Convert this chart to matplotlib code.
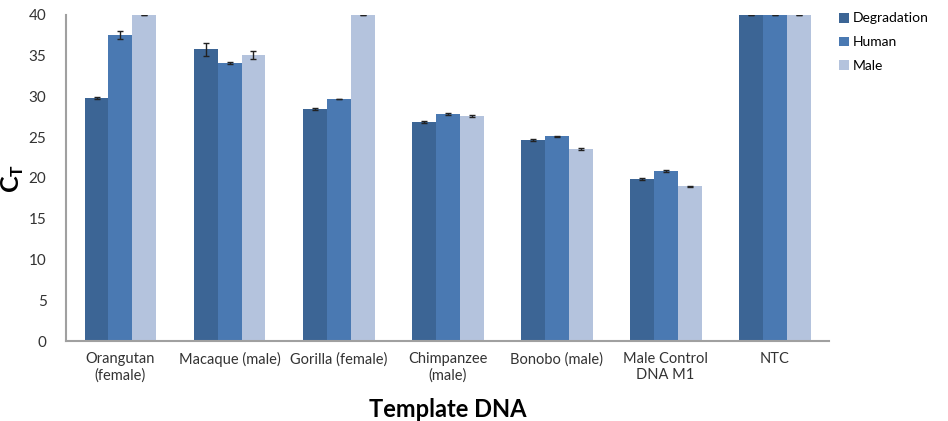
import numpy as np
import matplotlib.pyplot as plt
from matplotlib.patches import Patch

plt.rcParams['font.family'] = ['Lato', 'DejaVu Sans']

templates = ["Orangutan\n(female)", "Macaque (male)", "Gorilla (female)",
             "Chimpanzee\n(male)", "Bonobo (male)", "Male Control\nDNA M1", "NTC"]
series = ["Degradation", "Human", "Male"]

degradation = [29.8, 35.8, 28.5, 26.9, 24.65, 19.9, 40.0]
human = [37.5, 34.1, 29.7, 27.85, 25.1, 20.85, 40.0]
male = [40.0, 35.1, 40.0, 27.6, 23.55, 19.0, 40.0]

degradation_err = [0.15, 0.8, 0.1, 0.1, 0.1, 0.1, 0.0]
human_err = [0.5, 0.1, 0.05, 0.15, 0.1, 0.08, 0.0]
male_err = [0.0, 0.45, 0.0, 0.08, 0.08, 0.05, 0.0]

colors = ["#3c6595", "#4a79b2", "#b4c3dd"]

fig = plt.figure(figsize=(9.48, 4.21), dpi=100)
ax = fig.add_axes([0.0696, 0.19, 0.805, 0.7744])

x = np.arange(len(templates))
w = 0.22
for i, (vals, errs) in enumerate([(degradation, degradation_err),
                                   (human, human_err),
                                   (male, male_err)]):
    ax.bar(x + (i - 1) * w, vals, width=w, color=colors[i], yerr=errs,
           error_kw=dict(ecolor="#222222", elinewidth=1, capsize=2.5, capthick=1),
           zorder=2)

ax.set_xlim(-0.5, len(templates) - 0.5)
ax.set_ylim(0, 40)
ax.set_yticks(range(0, 41, 5))
ax.set_xticks(x)
ax.set_xticklabels(templates, fontsize=10.5, color="#333333")
ax.tick_params(axis="y", labelsize=11, colors="#333333", length=0, pad=14)
ax.tick_params(axis="x", length=0, pad=8)

for side in ["top", "right"]:
    ax.spines[side].set_visible(False)
for side in ["left", "bottom"]:
    ax.spines[side].set_color("#a0a0a0")
    ax.spines[side].set_linewidth(1.5)

ax.set_ylabel(r"C$_\mathregular{T}$", fontsize=18, fontweight="bold", labelpad=2)
ax.set_xlabel("Template DNA", fontsize=17, fontweight="bold", labelpad=11)

handles = [Patch(facecolor=c) for c in colors]
fig.legend(handles, series, loc="upper left", bbox_to_anchor=(0.872, 1.0),
           frameon=False, fontsize=10, handlelength=0.7, handleheight=0.7,
           handletextpad=0.3, labelspacing=0.85)

fig.savefig("out.png", dpi=100)
